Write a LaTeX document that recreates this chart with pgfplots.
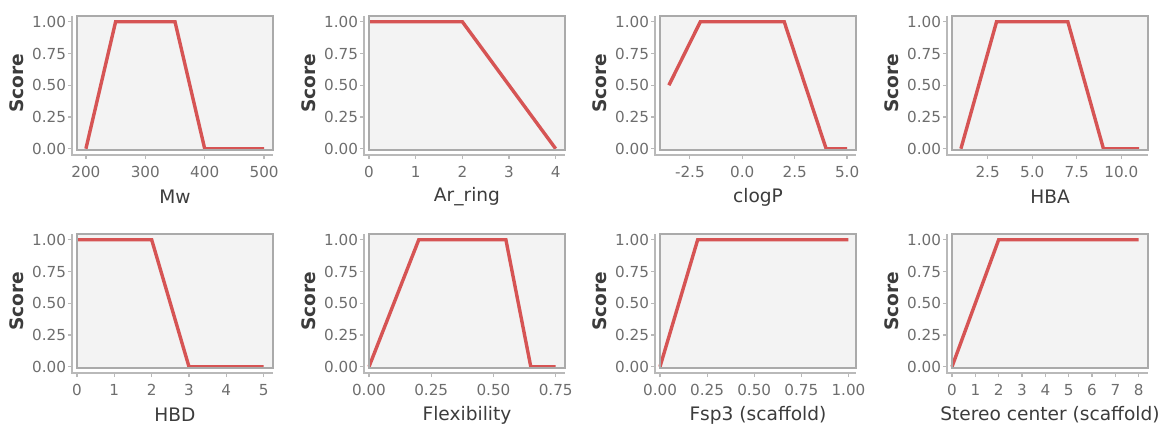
\documentclass[border=0pt]{standalone}
\usepackage{fontspec}
\setmainfont{DejaVu Sans}
\usepackage{pgfplots}
\pgfplotsset{compat=1.18}

\definecolor{bgc}{RGB}{243,243,243}
\definecolor{framec}{RGB}{170,170,170}
\definecolor{axc}{RGB}{185,185,185}
\definecolor{tickc}{RGB}{110,110,110}
\definecolor{labc}{RGB}{60,60,60}
\definecolor{linec}{RGB}{214,84,84}

\pgfplotsset{
  panel/.style={
    scale only axis, width=98pt, height=67pt,
    anchor=south west,
    ymin=-0.01, ymax=1.045,
    ytick={0,0.25,0.5,0.75,1},
    clip=false,
    axis line style={draw=none},
    axis background/.style={fill=bgc},
    tick pos=left, tick align=outside, major tick length=2pt,
    xtick style={draw=axc, line width=0.6pt, yshift=-2.5pt},
    ytick style={draw=axc, line width=0.6pt, xshift=-2.5pt},
    /pgf/number format/assume math mode=true,
    tick label style={font=\fontsize{7.6}{9}\selectfont, text=tickc},
    xticklabel style={yshift=-2.5pt},
    yticklabel style={
      /pgf/number format/fixed, /pgf/number format/fixed zerofill,
      /pgf/number format/precision=2},
    ylabel=Score,
    label style={font=\fontsize{9.3}{11}\selectfont, text=labc},
    ylabel style={at={([xshift=-30pt]axis description cs:0,0.5)}, anchor=center,
      font=\fontsize{9.3}{11}\selectfont\bfseries},
    xlabel style={at={([yshift=-23.5pt]axis description cs:0.5,0)}, anchor=center},
    extra description/.code={
      \draw[framec, line width=0.6pt] (0,0) rectangle (1,1);
      \draw[axc, line width=0.6pt] ([xshift=-2.5pt]0,1) -- ([xshift=-2.5pt,yshift=-2.5pt]0,0) -- ([yshift=-2.5pt]1,0);
    },
    cycle list={{draw=linec, mark=none}},
    every axis plot post/.append style={draw=linec, line width=1.7pt, mark=none},
  },
  dec1/.style={xticklabel style={/pgf/number format/fixed, /pgf/number format/fixed zerofill, /pgf/number format/precision=1}},
  dec2/.style={xticklabel style={/pgf/number format/fixed, /pgf/number format/fixed zerofill, /pgf/number format/precision=2}},
}

\begin{document}
\begin{tikzpicture}
\useasboundingbox (0,0) rectangle (581pt,212pt);

% row 1
\begin{axis}[panel, at={(38.5pt,137pt)}, xmin=185, xmax=515,
  xtick={200,300,400,500}, xlabel=Mw]
  \addplot coordinates {(200,0) (250,1) (350,1) (400,0) (500,0)};
\end{axis}

\begin{axis}[panel, at={(184.5pt,137pt)}, xmin=0, xmax=4.2,
  xtick={0,1,2,3,4}, xlabel=Ar\_ring]
  \addplot coordinates {(0,1) (2,1) (4,0)};
\end{axis}

\begin{axis}[panel, dec1, at={(330pt,137pt)}, xmin=-3.925, xmax=5.425,
  xtick={-2.5,0,2.5,5}, xlabel=clogP]
  \addplot coordinates {(-3.5,0.5) (-2,1) (2,1) (4,0) (5,0)};
\end{axis}

\begin{axis}[panel, dec1, at={(476pt,137pt)}, xmin=0.5, xmax=11.5,
  xtick={2.5,5,7.5,10}, xlabel=HBA]
  \addplot coordinates {(1,0) (3,1) (7,1) (9,0) (11,0)};
\end{axis}

% row 2
\begin{axis}[panel, at={(38.5pt,28pt)}, xmin=0, xmax=5.25,
  xtick={0,1,2,3,4,5}, xlabel=HBD]
  \addplot coordinates {(0,1) (2,1) (3,0) (5,0)};
\end{axis}

\begin{axis}[panel, dec2, at={(184.5pt,28pt)}, xmin=0, xmax=0.7875,
  xtick={0,0.25,0.5,0.75}, xlabel=Flexibility]
  \addplot coordinates {(0,0) (0.2,1) (0.55,1) (0.65,0) (0.75,0)};
\end{axis}

\begin{axis}[panel, dec2, at={(330pt,28pt)}, xmin=0, xmax=1.04,
  xtick={0,0.25,0.5,0.75,1}, xlabel={Fsp3 (scaffold)}]
  \addplot coordinates {(0,0) (0.2,1) (1,1)};
\end{axis}

\begin{axis}[panel, at={(476pt,28pt)}, xmin=0, xmax=8.4,
  xtick={0,1,2,3,4,5,6,7,8}, xlabel={Stereo center (scaffold)}]
  \addplot coordinates {(0,0) (2,1) (8,1)};
\end{axis}
\end{tikzpicture}
\end{document}
